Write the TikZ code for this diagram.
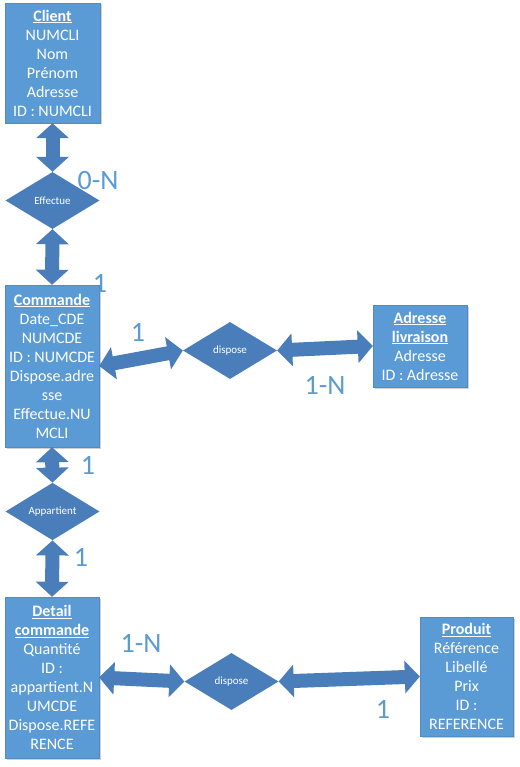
\documentclass[tikz,border=0pt]{standalone}
\usepackage{fontspec}
\setmainfont{Carlito}
\usetikzlibrary{shapes.geometric,arrows.meta,shadows}
\definecolor{boxblue}{HTML}{5B9BD5}
\definecolor{arrblue}{HTML}{4A7EBB}
\definecolor{lblblue}{HTML}{5B9BD5}
\newcommand{\ttl}[1]{\textbf{\underline{#1}}}
\begin{document}
\begin{tikzpicture}[x=1pt,y=-1pt,
  entity/.style={rectangle, fill=boxblue, draw=boxblue!90!black, line width=0.4pt,
    text=white, align=center, inner sep=0pt, font=\fontsize{16}{19}\selectfont,
    drop shadow={shadow xshift=1.5pt, shadow yshift=-1.5pt, opacity=0.3, fill=black!60}},
  relation/.style={diamond, fill=arrblue, text=white, inner sep=0pt,
    font=\fontsize{11}{13}\selectfont, minimum width=94pt, minimum height=57pt},
  link/.style={line width=14pt, draw=arrblue,
    {Triangle[length=15pt,width=32pt]}-{Triangle[length=15pt,width=32pt]}},
  card/.style={text=lblblue, font=\fontsize{28}{30}\selectfont, inner sep=0pt}]
\fill[white] (0,0) rectangle (519,767);
\useasboundingbox (0,0) rectangle (519,767);

% entities
\node[entity, minimum width=95pt, minimum height=120pt] (client) at (52.5,63)
  {\ttl{Client}\\NUMCLI\\Nom\\Prénom\\Adresse\\ID : NUMCLI};
\node[entity, minimum width=94pt, minimum height=162pt] (cmd) at (52,366)
  {\ttl{Commande}\\Date\_CDE\\NUMCDE\\ID : NUMCDE\\Dispose.adre\\sse\\Effectue.NU\\MCLI};
\node[entity, minimum width=94pt, minimum height=82pt] (adr) at (420,346)
  {\ttl{Adresse}\\\ttl{livraison}\\Adresse\\ID : Adresse};
\node[entity, minimum width=94pt, minimum height=161pt] (det) at (52,677.5)
  {\ttl{Detail}\\\ttl{commande}\\Quantité\\ID :\\appartient.N\\UMCDE\\Dispose.REFE\\RENCE};
\node[entity, minimum width=93pt, minimum height=119pt] (prod) at (466.5,676.5)
  {\ttl{Produit}\\Référence\\Libellé\\Prix\\ID :\\REFERENCE};

% relations
\node[relation] (eff) at (52.5,200.5) {Effectue};
\node[relation] (dis1) at (230,350.5) {dispose};
\node[relation] (app) at (52.5,511.5) {Appartient};
\node[relation] (dis2) at (231.5,681.5) {dispose};

% links
\draw[link] (client.south) -- (eff.north);
\draw[link] (eff.south) -- (cmd.north);
\draw[link] (cmd.east) -- (dis1.west);
\draw[link] (dis1.east) -- (adr.west);
\draw[link] (cmd.south) -- (app.north);
\draw[link] (app.south) -- (det.north);
\draw[link] (det.east) -- (dis2.west);
\draw[link] (dis2.east) -- (prod.west);

% cardinalities
\node[card] (c1) at (98,181) {0-N};
\node[card] (c2) at (100,283) {1};
\node[card] (c3) at (138,332) {1};
\node[card] (c4) at (325,385) {1-N};
\node[card] (c5) at (88,465) {1};
\node[card] (c6) at (81,557) {1};
\node[card] (c7) at (141,643) {1-N};
\node[card] (c8) at (383,709) {1};
\end{tikzpicture}
\end{document}
